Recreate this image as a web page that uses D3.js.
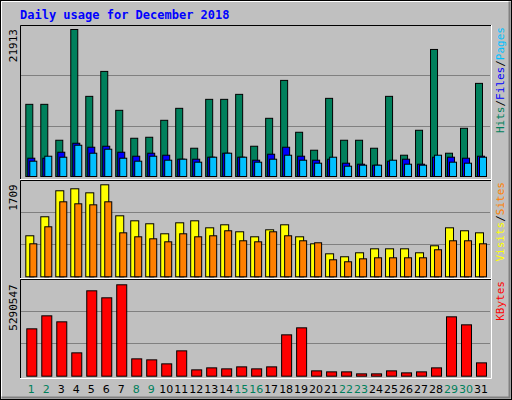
<!DOCTYPE html>
<html><head><meta charset="utf-8">
<script src="https://cdn.jsdelivr.net/npm/d3@7"></script>
<style>body{margin:0;background:#fff}</style></head>
<body><svg id="c" width="512" height="400"></svg>
<script>
const days = d3.range(1,32);
const weekend = [1,2,8,9,15,16,22,23,29,30];
const hits = [10758,10758,5404,21913,11948,15666,9866,5701,5850,8378,10163,4214,11502,11502,12245,4511,8676,14327,6594,3917,11650,5404,5404,4214,11948,3173,6891,18938,3470,7189,13881];
const files = [2727,2727,3619,4958,4363,4512,3619,3024,3471,3173,2578,2578,2876,3471,2876,2429,3322,4363,3024,2429,2578,1983,1834,1686,2281,2578,1834,2876,2876,2727,3024];
const pages = [2281,3024,2876,4661,3471,4066,2727,2281,3024,2429,2578,2132,2876,3471,2876,2132,2578,3173,2429,1983,2876,1537,1686,1686,2429,1834,1686,3173,2132,1983,2876];
const sites = [762,1115,1598,1635,1560,1709,1133,1040,985,799,1003,1040,910,966,836,743,873,966,743,613,427,372,446,520,520,520,446,576,910,855,817];
const visits = [613,929,1393,1356,1337,1393,817,743,706,650,799,743,762,855,669,650,836,762,669,632,316,279,334,353,353,353,353,502,669,669,613];
const kbytes = [2741736,3494748,3147204,1351560,4942848,4537380,5290547,1004016,946092,714396,1467408,366852,482700,424776,540624,424776,540624,2394192,2799660,308928,251004,251004,135156,135156,308928,193080,251004,482700,3436824,2973432,772320];

const svg = d3.select("#c");
const mono = "'DejaVu Sans Mono', monospace";
// background and bevel
svg.append("rect").attr("x",0).attr("y",0).attr("width",512).attr("height",400).attr("fill","#c0c0c0");
svg.append("rect").attr("x",0.5).attr("y",0.5).attr("width",511).attr("height",399).attr("fill","none").attr("stroke","#000");
svg.append("path").attr("d","M1.5,398.5V1.5H510.5").attr("stroke","#fff").attr("fill","none");
svg.append("path").attr("d","M1.5,397.5H509.5V1.5").attr("stroke","#808080").attr("fill","none").attr("stroke-width",2);

svg.append("text").attr("x",20).attr("y",19).text("Daily usage for December 2018")
  .attr("font-family",mono).attr("font-weight","bold").attr("font-size",12).attr("fill","#0000ff");

const x = d3.scaleLinear().domain([1,31]).range([25.3,475]);

function panel(top, bottom, baseline, maxY, maxVal, series, label, rlabels){
  svg.append("rect").attr("x",20).attr("y",top).attr("width",471).attr("height",bottom-top).attr("fill","#c0c0c0");
  const y = d3.scaleLinear().domain([0,maxVal]).range([baseline,maxY]);
  const g1 = baseline-(baseline-top)/3, g2 = baseline-2*(baseline-top)/3;
  [g1,g2].forEach(g=>svg.append("line").attr("x1",21).attr("x2",490).attr("y1",Math.round(g)+0.5).attr("y2",Math.round(g)+0.5).attr("stroke","#808080"));
  series.forEach(s=>{
    svg.append("g").selectAll("rect").data(s.data).join("rect")
      .attr("x",(d,i)=>x(days[i])+s.dx+0.5).attr("width",s.w)
      .attr("y",d=>y(d)+0.5).attr("height",d=>Math.max(0,baseline-y(d)))
      .attr("fill",s.color).attr("stroke","#000").attr("stroke-width",1);
  });
  svg.append("path").attr("d",`M20.5,${bottom}V${top+0.5}H491`).attr("stroke","#000").attr("fill","none");
  svg.append("path").attr("d",`M20,${bottom-0.5}H491.5V${top}`).attr("stroke","#fff").attr("fill","none");
  svg.append("text").attr("transform",`translate(17,${maxY}) rotate(-90)`).attr("text-anchor","end")
    .attr("font-family",mono).attr("font-size",11).attr("fill","#000").text(label);
  const t = svg.append("text").attr("transform",`translate(504,${top+2}) rotate(-90)`).attr("text-anchor","end")
    .attr("font-family",mono).attr("font-size",11);
  rlabels.forEach(r=>t.append("tspan").attr("fill",r[1]).text(r[0]));
}

panel(25,180,176,29,21913,[
  {data:hits,color:"#00805c",dx:0,w:7},
  {data:files,color:"#0000ff",dx:2,w:7},
  {data:pages,color:"#00c0ff",dx:4,w:7}],"21913",
  [["Hits","#00805c"],["/","#000"],["Files","#0000ff"],["/","#000"],["Pages","#00c0ff"]]);
panel(180,279,276.3,184.3,1709,[
  {data:sites,color:"#ffff00",dx:0,w:8},
  {data:visits,color:"#ff8000",dx:4,w:7}],"1709",
  [["Visits","#ffff00"],["/","#000"],["Sites","#ff8000"]]);
panel(279,379,375.7,284.3,5290547,[
  {data:kbytes,color:"#ff0000",dx:1,w:10}],"5290547",
  [["KBytes","#ff0000"]]);

svg.append("g").selectAll("text").data(days).join("text")
  .attr("x",d=>x(d)+6).attr("y",393).attr("text-anchor","middle")
  .attr("font-family","'DejaVu Sans', sans-serif").attr("font-size",11)
  .attr("fill",d=>weekend.includes(d)?"#00805c":"#000").text(d=>d);
</script></body></html>
